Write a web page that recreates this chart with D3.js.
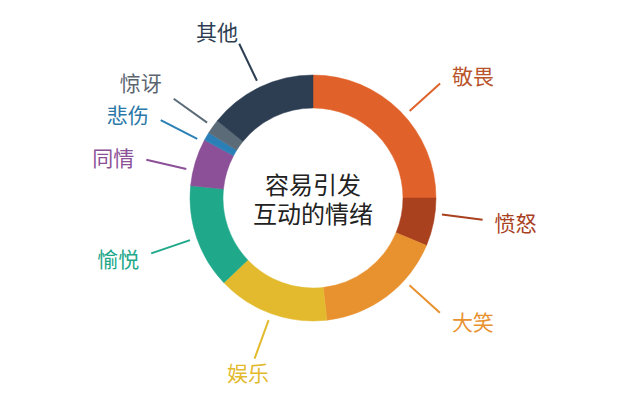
<!DOCTYPE html>
<html>
<head>
<meta charset="utf-8">
<script src="https://cdnjs.cloudflare.com/ajax/libs/d3/7.8.5/d3.min.js"></script>
<style>
  body { margin: 0; background: #fff; }
  text { font-family: "Noto Sans CJK SC", "Noto Sans", sans-serif; }
</style>
</head>
<body>
<script>
  // emotion categories, clockwise from 12 o'clock
  var emotions = ["敬畏", "愤怒", "大笑", "娱乐", "愉悦", "同情", "悲伤", "惊讶", "其他"];
  // share of each emotion (%)
  var shares = [25.0, 6.3, 16.9, 14.7, 13.7, 6.2, 1.1, 1.9, 14.2];
  var colors = ["#e0622a", "#a9401e", "#e8912f", "#e3ba2e", "#1fa88a", "#8b5097", "#2a80b6", "#5b6c78", "#2d3e52"];
  var centerLines = ["容易引发", "互动的情绪"];

  // label text is a touch darker than its slice in a few places
  var textColor = { "敬畏": "#b9532b", "惊讶": "#5b6570", "悲伤": "#2a78a8" };

  // small hand nudges so the callouts sit where the original put them
  // a = degrees, dx/dy = pixels on the text only
  var labelNudge = {
    "敬畏": { a: 3 },
    "愤怒": { a: -4 },
    "大笑": { a: -11 },
    "同情": { a: -4 },
    "悲伤": { a: -3 },
    "惊讶": { dy: -9 },
    "其他": { dx: -14, dy: 4 },
    "娱乐": { dy: -5 }
  };

  var width = 640, height = 400,
      cx = 313, cy = 198,
      outerR = 123, innerR = 90;

  var svg = d3.select("body").append("svg")
    .attr("width", width)
    .attr("height", height);

  var g = svg.append("g")
    .attr("transform", "translate(" + cx + "," + cy + ")");

  var data = emotions.map(function (d, i) {
    return { name: d, value: shares[i], color: colors[i] };
  });

  var pie = d3.pie().sort(null).value(function (d) { return d.value; });
  var arc = d3.arc().innerRadius(innerR).outerRadius(outerR);

  var arcs = pie(data);

  g.selectAll("path.slice")
    .data(arcs)
    .enter().append("path")
    .attr("class", "slice")
    .attr("d", arc)
    .attr("fill", function (d) { return d.data.color; })
    .attr("stroke", function (d) { return d.data.color; })
    .attr("stroke-width", 0.5);

  function nudge(d) { return labelNudge[d.data.name] || {}; }

  // callout angle in radians, 0 = 12 o'clock, clockwise
  function calloutAngle(d) {
    var mid = (d.startAngle + d.endAngle) / 2;
    return mid + (nudge(d).a || 0) * Math.PI / 180;
  }
  function pt(a, r) { return [Math.sin(a) * r, -Math.cos(a) * r]; }

  var r1 = 130, r2 = 171;

  g.selectAll("line.callout")
    .data(arcs)
    .enter().append("line")
    .attr("class", "callout")
    .attr("x1", function (d) { return pt(calloutAngle(d), r1)[0]; })
    .attr("y1", function (d) { return pt(calloutAngle(d), r1)[1]; })
    .attr("x2", function (d) { return pt(calloutAngle(d), r2)[0]; })
    .attr("y2", function (d) { return pt(calloutAngle(d), r2)[1]; })
    .attr("stroke", function (d) { return d.data.color; })
    .attr("stroke-width", 2);

  g.selectAll("text.label")
    .data(arcs)
    .enter().append("text")
    .attr("class", "label")
    .each(function (d) {
      var a = calloutAngle(d), s = Math.sin(a), c = Math.cos(a);
      var n = nudge(d), el = d3.select(this);
      var x, y;
      if (Math.abs(s) < 0.5) {
        // near top / bottom: centred above or below the line end
        var p = pt(a, 190);
        x = p[0]; y = p[1];
        el.attr("text-anchor", "middle");
      } else {
        var e = pt(a, r2);
        x = e[0] + (s > 0 ? 12 : -12);
        y = e[1] - c * 13;
        el.attr("text-anchor", s > 0 ? "start" : "end");
      }
      el.attr("x", x + (n.dx || 0)).attr("y", y + (n.dy || 0));
    })
    .attr("dominant-baseline", "central")
    .attr("font-size", 21)
    .attr("fill", function (d) { return textColor[d.data.name] || d.data.color; })
    .text(function (d) { return d.data.name; });

  g.selectAll("text.center")
    .data(centerLines)
    .enter().append("text")
    .attr("class", "center")
    .attr("x", 0)
    .attr("y", function (d, i) { return (i - 0.5) * 29; })
    .attr("text-anchor", "middle")
    .attr("dominant-baseline", "central")
    .attr("font-size", 24)
    .attr("fill", "#222")
    .text(function (d) { return d; });
</script>
</body>
</html>
